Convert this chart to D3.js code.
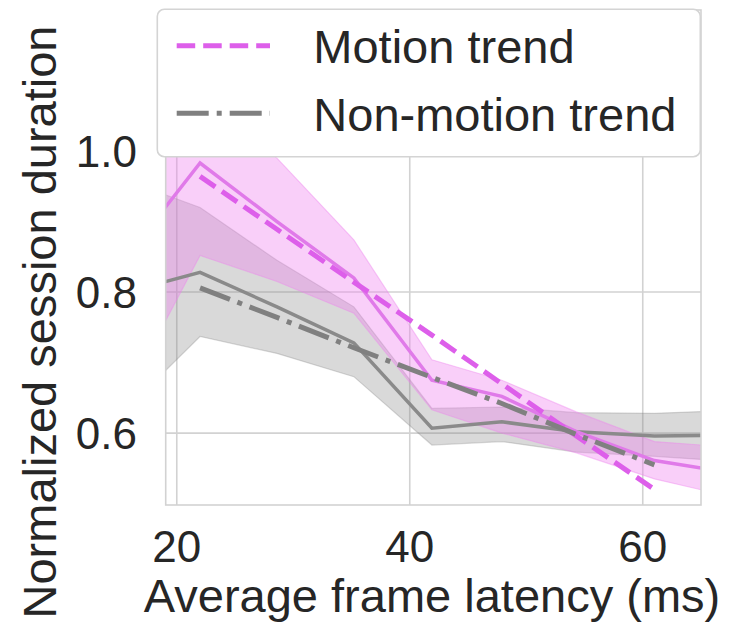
<!DOCTYPE html>
<html>
<head>
<meta charset="utf-8">
<script src="https://cdn.jsdelivr.net/npm/d3@7"></script>
<style>
  body { margin: 0; background: #fff; }
  svg { display: block; font-family: "Liberation Sans", Arial, sans-serif; }
</style>
</head>
<body>
<div id="chart"></div>
<script>
// latency bins (ms); first and last sit outside the visible range and get clipped
const latency = [15.5, 22, 28.6, 35.2, 41.9, 47.9, 54.3, 61, 67.5];

const motionMean  = [0.846, 0.983, 0.900, 0.820, 0.675, 0.652, 0.602, 0.561, 0.544];
const motionUpper = [1.150, 1.080, 0.990, 0.874, 0.704, 0.675, 0.630, 0.588, 0.580];
const motionLower = [0.648, 0.852, 0.815, 0.770, 0.633, 0.600, 0.572, 0.535, 0.510];

const staticMean  = [0.799, 0.828, 0.779, 0.728, 0.607, 0.616, 0.602, 0.596, 0.597];
const staticUpper = [0.959, 0.920, 0.845, 0.779, 0.635, 0.637, 0.629, 0.628, 0.632];
const staticLower = [0.631, 0.737, 0.713, 0.680, 0.583, 0.588, 0.573, 0.567, 0.560];

// fitted trends, drawn from 22 to 61 ms
const trendLatency = [22, 28.6, 35.2, 41.9, 47.9, 54.3, 61];
const motionTrend  = [0.964, 0.889, 0.814, 0.739, 0.670, 0.596, 0.520];
const staticTrend  = [0.806, 0.764, 0.721, 0.679, 0.642, 0.598, 0.555];

const xTicks = [20, 40, 60];
const yTicks = [0.6, 0.8, 1.0];
const legendLabels = ["Motion trend", "Non-motion trend"];

const W = 733, H = 629;
const x = d3.scaleLinear().domain([19.05, 65]).range([165.7, 701]);
const y = d3.scaleLinear().domain([0.498, 1.2]).range([505, 10]);

const svg = d3.select("#chart").append("svg")
  .attr("width", W).attr("height", H);

const gridColor = "#d2d2d2";
const textColor = "#262626";
const pink = "#ee82ee", pinkLine = "#e07ae9", pinkDash = "#dd5fea";
const grey = "#808080", greyLine = "#8a8a8a";

svg.append("clipPath").attr("id", "plot")
  .append("rect")
  .attr("x", x.range()[0]).attr("y", y.range()[1])
  .attr("width", x.range()[1] - x.range()[0])
  .attr("height", y.range()[0] - y.range()[1]);

// grid
svg.append("g").selectAll("line").data(xTicks).join("line")
  .attr("x1", d => x(d)).attr("x2", d => x(d))
  .attr("y1", y.range()[0]).attr("y2", y.range()[1])
  .attr("stroke", gridColor).attr("stroke-width", 1.6);
svg.append("g").selectAll("line").data(yTicks).join("line")
  .attr("x1", x.range()[0]).attr("x2", x.range()[1])
  .attr("y1", d => y(d)).attr("y2", d => y(d))
  .attr("stroke", gridColor).attr("stroke-width", 1.6);

const plot = svg.append("g").attr("clip-path", "url(#plot)");

let band = (lo, hi) => d3.area()
  .x((d, i) => x(latency[i]))
  .y0((d, i) => y(lo[i]))
  .y1((d, i) => y(hi[i]))(latency);

let line = (xs, ys) => d3.line()
  .x((d, i) => x(xs[i]))
  .y((d, i) => y(ys[i]))(xs);

plot.append("path").attr("d", band(staticLower, staticUpper))
  .attr("fill", grey).attr("fill-opacity", 0.3)
  .attr("stroke", grey).attr("stroke-opacity", 0.3).attr("stroke-width", 1.2);
plot.append("path").attr("d", band(motionLower, motionUpper))
  .attr("fill", pink).attr("fill-opacity", 0.38)
  .attr("stroke", pink).attr("stroke-opacity", 0.4).attr("stroke-width", 1.2);

plot.append("path").attr("d", line(latency, staticMean))
  .attr("fill", "none").attr("stroke", greyLine).attr("stroke-width", 3.5);
plot.append("path").attr("d", line(latency, motionMean))
  .attr("fill", "none").attr("stroke", pinkLine).attr("stroke-width", 3.5);

plot.append("path").attr("d", line(trendLatency, motionTrend))
  .attr("fill", "none").attr("stroke", pinkDash).attr("stroke-width", 5)
  .attr("stroke-dasharray", "18.5 8");
plot.append("path").attr("d", line(trendLatency, staticTrend))
  .attr("fill", "none").attr("stroke", grey).attr("stroke-width", 5)
  .attr("stroke-dasharray", "32 8 5 8");

// frame
svg.append("rect")
  .attr("x", x.range()[0]).attr("y", y.range()[1])
  .attr("width", x.range()[1] - x.range()[0])
  .attr("height", y.range()[0] - y.range()[1])
  .attr("fill", "none").attr("stroke", gridColor).attr("stroke-width", 1.6);

// tick labels
svg.append("g").selectAll("text").data(xTicks).join("text")
  .attr("x", d => x(d)).attr("y", 562)
  .attr("text-anchor", "middle")
  .attr("font-size", 44).attr("fill", textColor)
  .text(d => d);
svg.append("g").selectAll("text").data(yTicks).join("text")
  .attr("x", 137).attr("y", d => y(d) + 15.5)
  .attr("text-anchor", "end")
  .attr("font-size", 44).attr("fill", textColor)
  .text(d => d3.format(".1f")(d));

// axis titles
svg.append("text")
  .attr("x", 432).attr("y", 612)
  .attr("text-anchor", "middle")
  .attr("font-size", 47).attr("fill", textColor)
  .text("Average frame latency (ms)");
svg.append("text")
  .attr("transform", "translate(56,322) rotate(-90)")
  .attr("text-anchor", "middle")
  .attr("font-size", 47).attr("fill", textColor)
  .text("Normalized session duration");

// legend
const legend = svg.append("g");
legend.append("rect")
  .attr("x", 157.3).attr("y", 9.3).attr("width", 543).attr("height", 147.4)
  .attr("rx", 7)
  .attr("fill", "#fff")
  .attr("stroke", "#d4d4d4").attr("stroke-width", 1.6);

const legendStyle = [
  { color: pinkDash, dash: "18.5 8" },
  { color: grey, dash: "32 8 5 8" }
];
const rows = legend.selectAll("g.row").data(legendLabels).join("g")
  .attr("class", "row")
  .attr("transform", (d, i) => `translate(0,${i * 67.5})`);
rows.append("line")
  .attr("x1", 176.7).attr("x2", 270)
  .attr("y1", 45.7).attr("y2", 45.7)
  .attr("stroke", (d, i) => legendStyle[i].color)
  .attr("stroke-width", 5)
  .attr("stroke-dasharray", (d, i) => legendStyle[i].dash);
rows.append("text")
  .attr("x", 313.3).attr("y", 63.3)
  .attr("font-size", 47).attr("fill", textColor)
  .text(d => d);
</script>
</body>
</html>
